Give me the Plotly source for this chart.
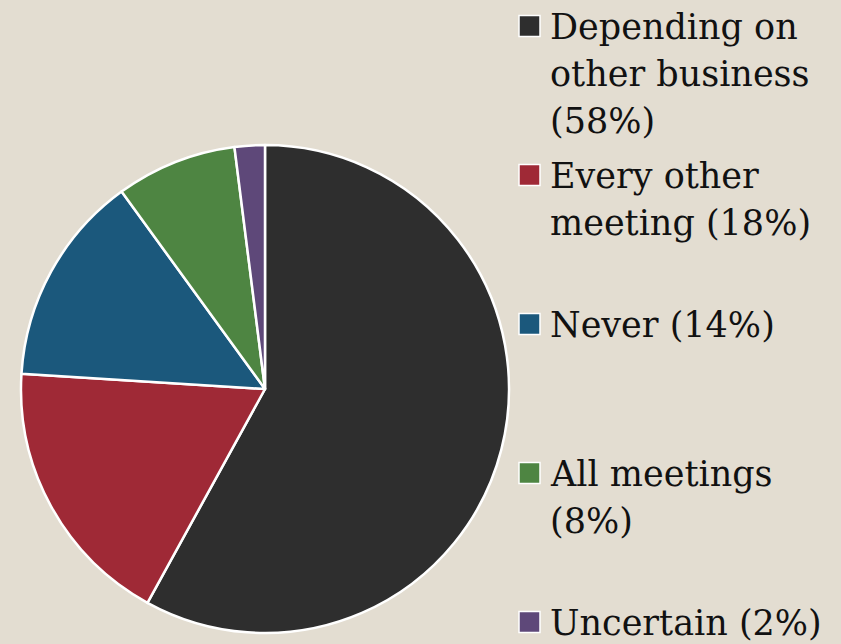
import plotly.graph_objects as go

categories = ["Depending on other business", "Every other meeting", "Never",
              "All meetings", "Uncertain"]
values = [58, 18, 14, 8, 2]
legend_lines = [["Depending on", "other business", "(58%)"],
                ["Every other", "meeting (18%)"],
                ["Never (14%)"],
                ["All meetings", "(8%)"],
                ["Uncertain (2%)"]]
colors = ["#2E2E2E", "#9F2936", "#1B587C", "#4E8542", "#5E4879"]

W, H = 841, 644
BG = "#E3DDD1"
fig = go.Figure(go.Pie(
    labels=categories,
    values=values,
    marker=dict(colors=colors, line=dict(color="white", width=2.5)),
    sort=False, direction="clockwise", rotation=0,
    textinfo="none", hoverinfo="label+percent",
    domain=dict(x=[21 / W, 509 / W], y=[1 - 633 / H, 1 - 145 / H]),
    showlegend=False,
))

# manual legend (layout only)
item_top = 26
item_step = 149
line_step = 47
annotations, shapes = [], []
for i, (lines, col) in enumerate(zip(legend_lines, colors)):
    yc = item_top + i * item_step
    shapes.append(dict(type="rect", xref="paper", yref="paper",
                       x0=519 / W, x1=540 / W,
                       y0=1 - (yc + 10.5) / H, y1=1 - (yc - 10.5) / H,
                       fillcolor=col, line=dict(color="white", width=1.5)))
    for j, txt in enumerate(lines):
        ly = yc + j * line_step
        annotations.append(dict(text=txt, xref="paper", yref="paper",
                                x=548 / W, y=1 - (ly + 1) / H,
                                xanchor="left", yanchor="middle",
                                showarrow=False,
                                font=dict(family="DejaVu Serif", size=35,
                                          color="#111111")))

fig.update_layout(
    width=W, height=H,
    margin=dict(l=0, r=0, t=0, b=0),
    paper_bgcolor=BG, plot_bgcolor=BG,
    showlegend=False,
    annotations=annotations, shapes=shapes,
)
fig.write_html("out.html", config=dict(displayModeBar=False),
               post_script="document.body.style.margin='0';"
                           "document.body.style.background='" + BG + "';")
